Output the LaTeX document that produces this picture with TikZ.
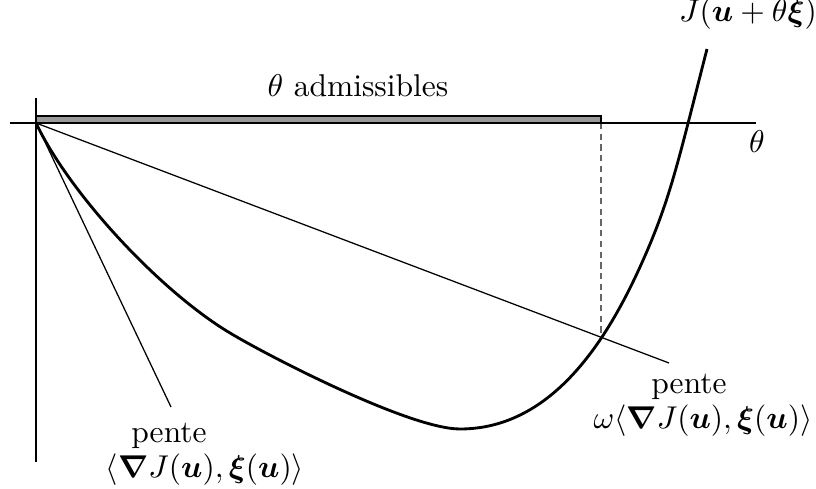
\documentclass[tikz,border=0pt]{standalone}
\usepackage{amsmath,amssymb}
\usetikzlibrary{calc}
\tikzset{
  axe/.style    = {line width=0.9pt, black},
  courbe/.style = {line width=0.9pt, black},
  pentel/.style = {line width=0.4pt, black},
  barre/.style  = {draw=black, line width=0.4pt, fill=black!40},
  repere/.style = {line width=0.4pt, black!60, dash pattern=on 2pt off 1.4pt},
  lbl/.style    = {inner sep=0pt, anchor=base},
}
\newcommand{\bu}{\boldsymbol{u}}
\newcommand{\bxi}{\boldsymbol{\xi}}
\newcommand{\prodsc}{\langle\boldsymbol{\nabla} J(\bu),\bxi(\bu)\rangle}

\begin{document}
\begin{tikzpicture}[x=0.3175pt, y=-0.3175pt]
  \useasboundingbox (0,0) rectangle (816,489);

  % points de repere
  \coordinate (O)    at (36,123);
  \coordinate (bar)  at (601,116);
  \coordinate (xg)   at (10,123);
  \coordinate (xd)   at (756,123);
  \coordinate (yh)   at (36,98);
  \coordinate (yb)   at (36,462);
  \coordinate (tg)   at (171,407);
  \coordinate (om)   at (669,363);
  \coordinate (pied) at (601,336);
  \coordinate (c1)   at (230,333);
  \coordinate (cmin) at (460,429);
  \coordinate (c3)   at (640,267);
  \coordinate (fin)  at (707,49);

  % intervalle admissible
  \draw[barre] (O) rectangle (bar);
  \draw[repere] (bar |- O) -- (pied);

  % axes
  \draw[axe] (xg) -- (xd);
  \draw[axe] (yh) -- (yb);

  % pentes
  \draw[pentel] (O) -- (tg);
  \draw[pentel] (O) -- (om);

  % la fonction
  \draw[courbe] (O) .. controls (69.75,194) and (160,291) .. (c1)
                    .. controls (270,357) and (410,429) .. (cmin)
                    .. controls (550,429) and (605,344) .. (c3)
                    .. controls (670,201) and (677,166) .. (fin);

  % textes
  \node[lbl] (adm)   at (358,97)  {$\theta$ admissibles};
  \node[lbl] (theta) at (757,153) {$\theta$};
  \node[lbl] (J)     at (748,22)  {$J(\bu+\theta\bxi)$};
  \node[lbl] (p1)    at (169,443) {pente};
  \node[lbl] (p1b)   at (205,478) {$\prodsc$};
  \node[lbl] (p2)    at (689,394) {pente};
  \node[lbl] (p2b)   at (703,429) {$\omega\prodsc$};
\end{tikzpicture}
\end{document}
